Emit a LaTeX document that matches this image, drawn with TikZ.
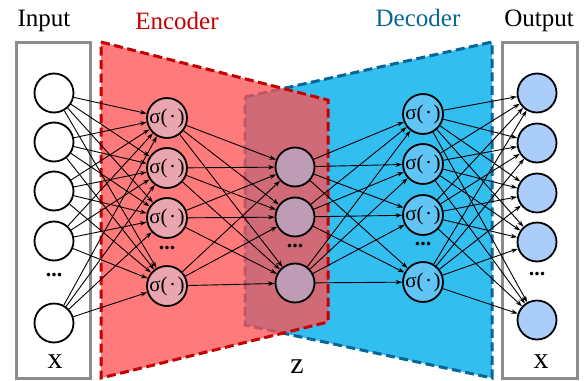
\documentclass[tikz,border=0pt]{standalone}
\usepackage{fontspec}
\setmainfont{Liberation Serif}
\usetikzlibrary{arrows.meta}

\definecolor{encfill}{RGB}{255,122,122}
\definecolor{encline}{RGB}{196,0,0}
\definecolor{decfill}{RGB}{51,190,240}
\definecolor{decline}{RGB}{8,102,150}
\definecolor{mixfill}{RGB}{208,106,118}
\definecolor{mixline}{RGB}{192,86,106}
\definecolor{encnode}{RGB}{234,166,174}
\definecolor{latnode}{RGB}{190,156,181}
\definecolor{decnode}{RGB}{96,196,245}
\definecolor{outnode}{RGB}{170,205,250}
\definecolor{boxgray}{RGB}{140,140,140}

\newcommand{\sigact}{σ(\kern1.5pt·\kern1.5pt)}

\begin{document}
\begin{tikzpicture}[x=1pt,y=-1pt,
  neuron/.style={circle, draw=black, line width=1.8pt, minimum size=39pt, inner sep=0pt},
  sig/.style={neuron, font=\fontsize{21}{22}\selectfont},
  dots/.style={font=\fontsize{22}{24}\selectfont\bfseries},
  title/.style={anchor=base, font=\fontsize{25}{28}\selectfont},
  var/.style={anchor=base, font=\fontsize{30}{32}\selectfont},
  link/.style={line width=0.9pt, -{Stealth[length=6.5pt,width=4.5pt]}},
  frame/.style={draw=boxgray, line width=3pt},
  border/.style={line width=3pt, dash pattern=on 9pt off 4.5pt}]
\useasboundingbox (0,0) rectangle (586,380);

% corners of encoder and decoder
\coordinate (e1) at (101,42);
\coordinate (e2) at (328,100);
\coordinate (e3) at (328,322);
\coordinate (e4) at (101,378);
\coordinate (d1) at (245,97);
\coordinate (d2) at (492,42);
\coordinate (d3) at (492,378);
\coordinate (d4) at (245,325);

% input and output boxes
\draw[frame] (16,42) rectangle (90,378);
\draw[frame] (502,42) rectangle (577,378);

% decoder, encoder, overlap
\fill[decfill] (d1) -- (d2) -- (d3) -- (d4) -- cycle;
\draw[border, decline] (d1) -- (d2) -- (d3) -- (d4) -- cycle;
\fill[encfill] (e1) -- (e2) -- (e3) -- (e4) -- cycle;
\begin{scope}
  \clip (e1) -- (e2) -- (e3) -- (e4) -- cycle;
  \fill[mixfill] (d1) -- (d2) -- (d3) -- (d4) -- cycle;
  \draw[border, mixline] (d1) -- (d2) -- (d3) -- (d4) -- cycle;
\end{scope}
\draw[border, encline] (e1) -- (e2) -- (e3) -- (e4) -- cycle;

% titles
\node[title] (tin) at (44,27) {Input};
\node[title, text=encline] (tenc) at (177,29) {Encoder};
\node[title, text=decline] (tdec) at (418,27) {Decoder};
\node[title] (tout) at (539,27) {Output};
\node[var] (vin) at (55,368) {x};
\node[var] (vz) at (297,373) {z};
\node[var] (vout) at (541,368) {x};

% input layer
\node[neuron, fill=white] (in1) at (54,93) {};
\node[neuron, fill=white] (in2) at (54,142) {};
\node[neuron, fill=white] (in3) at (54,191) {};
\node[neuron, fill=white] (in4) at (54,241) {};
\node[dots] (indots) at (54,275) {...};
\node[neuron, fill=white] (in5) at (54,323) {};

% encoder layer
\node[sig, fill=encnode] (enc1) at (167,118) {\sigact};
\node[sig, fill=encnode] (enc2) at (167,168) {\sigact};
\node[sig, fill=encnode] (enc3) at (167,218) {\sigact};
\node[dots] (encdots) at (167,248) {...};
\node[sig, fill=encnode] (enc4) at (167,286) {\sigact};

% latent layer
\node[neuron, fill=latnode] (lat1) at (295,167) {};
\node[neuron, fill=latnode] (lat2) at (295,217) {};
\node[dots] (latdots) at (295,246) {...};
\node[neuron, fill=latnode] (lat3) at (295,283) {};

% decoder layer
\node[sig, fill=decnode] (dec1) at (423,114) {\sigact};
\node[sig, fill=decnode] (dec2) at (423,164) {\sigact};
\node[sig, fill=decnode] (dec3) at (423,215) {\sigact};
\node[dots] (decdots) at (423,244) {...};
\node[sig, fill=decnode] (dec4) at (423,282) {\sigact};

% output layer
\node[neuron, fill=outnode] (out1) at (537,93) {};
\node[neuron, fill=outnode] (out2) at (537,143) {};
\node[neuron, fill=outnode] (out3) at (537,193) {};
\node[neuron, fill=outnode] (out4) at (537,242) {};
\node[dots] (outdots) at (537,274) {...};
\node[neuron, fill=outnode] (out5) at (537,320) {};

% connections
\foreach \i in {1,...,5}
  \foreach \j in {1,...,4}
    \draw[link] (in\i) -- (enc\j);
\foreach \i in {1,...,4}
  \foreach \j in {1,...,3}
    \draw[link] (enc\i) -- (lat\j);
\foreach \i in {1,...,3}
  \foreach \j in {1,...,4}
    \draw[link] (lat\i) -- (dec\j);
\foreach \i in {1,...,4}
  \foreach \j in {1,...,5}
    \draw[link] (dec\i) -- (out\j);
\end{tikzpicture}
\end{document}
